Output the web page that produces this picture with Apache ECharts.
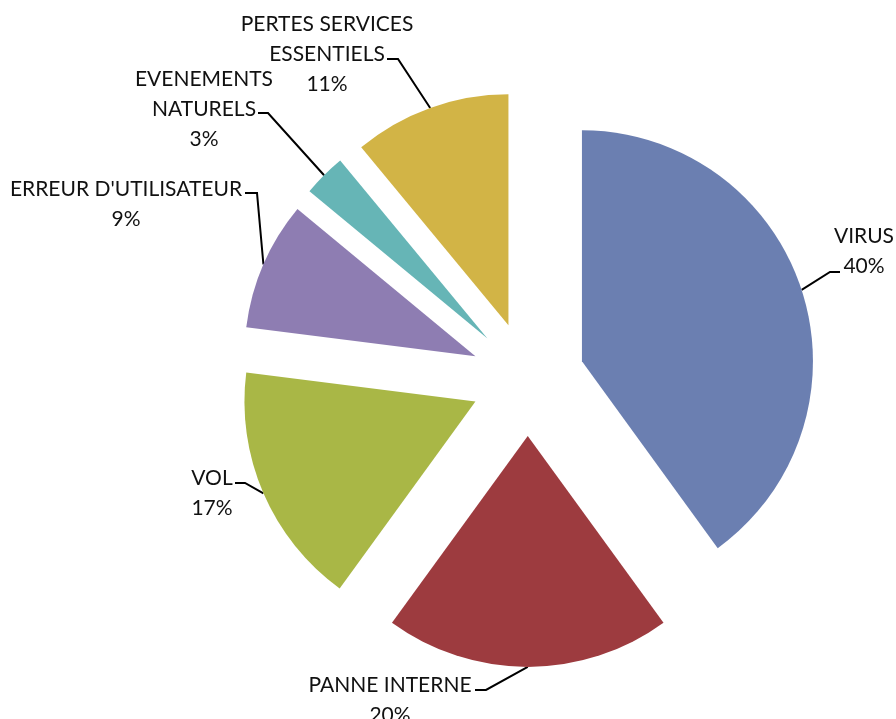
<!DOCTYPE html>
<html lang="fr">
<head>
    <meta charset="UTF-8">
    <title>Pertes de données</title>
    <style>
        html, body { margin: 0; padding: 0; background: #fff; }
        #main { width: 896px; height: 719px; }
    </style>
</head>
<body>
<div id="main"></div>

<script src="https://cdn.jsdelivr.net/npm/echarts@6/dist/echarts.min.js"></script>

<script>
// données
var categories = ['VIRUS', 'PANNE INTERNE', 'VOL', "ERREUR D'UTILISATEUR", 'EVENEMENTS NATURELS', 'PERTES SERVICES ESSENTIELS'];
var labelNames = ['VIRUS', 'PANNE INTERNE', 'VOL', "ERREUR D'UTILISATEUR", 'EVENEMENTS\nNATURELS', 'PERTES SERVICES\nESSENTIELS'];
var values = [40, 20, 17, 9, 3, 11];
var colors = ['#6b7fb1', '#9d3b3f', '#a9b746', '#8e7db2', '#66b5b6', '#d2b446'];

// placement des étiquettes : centre du bloc, y de la 1re ligne, coude et fin du trait
var labelPlace = [
    {x: 864, y: 236, elbow: [830, 272], end: [840, 272]},
    {x: 390, y: 685, elbow: [486, 690], end: [475, 690]},
    {x: 212, y: 478, elbow: [245, 483], end: [235, 483]},
    {x: 126, y: 189, elbow: [257, 193], end: [245, 193]},
    {x: 204, y: 79, elbow: [268, 113], end: [258, 113]},
    {x: 327, y: 24, elbow: [398, 59], end: [387, 59]}
];
var LINE_H = 30;
var OFFSET = 57;

var myChart = echarts.init(document.getElementById('main'));

var pieData = categories.map(function (name, i) {
    return {
        name: name,
        value: values[i],
        selected: true,
        itemStyle: {color: colors[i]}
    };
});

// textes des étiquettes (le texte natif du pie suit l'état "select", on le dessine à part)
var labelTexts = labelPlace.map(function (lp, i) {
    return {
        type: 'text',
        silent: true,
        style: {
            text: labelNames[i] + '\n' + values[i] + '%',
            x: lp.x,
            y: lp.y - LINE_H / 2,
            align: 'center',
            verticalAlign: 'top',
            lineHeight: LINE_H,
            font: '21px Lato',
            fill: '#111'
        }
    };
});

myChart.setOption({
    animation: false,
    graphic: labelTexts,
    series: [{
        type: 'pie',
        center: ['58.9%', '52.7%'],
        radius: 231,
        startAngle: 90,
        clockwise: true,
        selectedMode: 'multiple',
        selectedOffset: OFFSET,
        avoidLabelOverlap: false,
        emphasis: {disabled: true},
        data: pieData,
        label: {
            show: true,
            position: 'outside',
            color: 'transparent',
            formatter: '{b}'
        },
        labelLine: {
            show: true,
            length: 15,
            lineStyle: {color: '#000', width: 2}
        },
        labelLayout: function (params) {
            var lp = labelPlace[params.dataIndex];
            var pts = params.labelLinePoints;
            // le trait est décalé avec la part : on retire ce décalage
            var vx = pts[1][0] - pts[0][0];
            var vy = pts[1][1] - pts[0][1];
            var len = Math.sqrt(vx * vx + vy * vy) || 1;
            var ox = OFFSET * vx / len;
            var oy = OFFSET * vy / len;
            return {
                labelLinePoints: [
                    pts[0],
                    [lp.elbow[0] - ox, lp.elbow[1] - oy],
                    [lp.end[0] - ox, lp.end[1] - oy]
                ]
            };
        }
    }]
});
</script>
</body>
</html>
